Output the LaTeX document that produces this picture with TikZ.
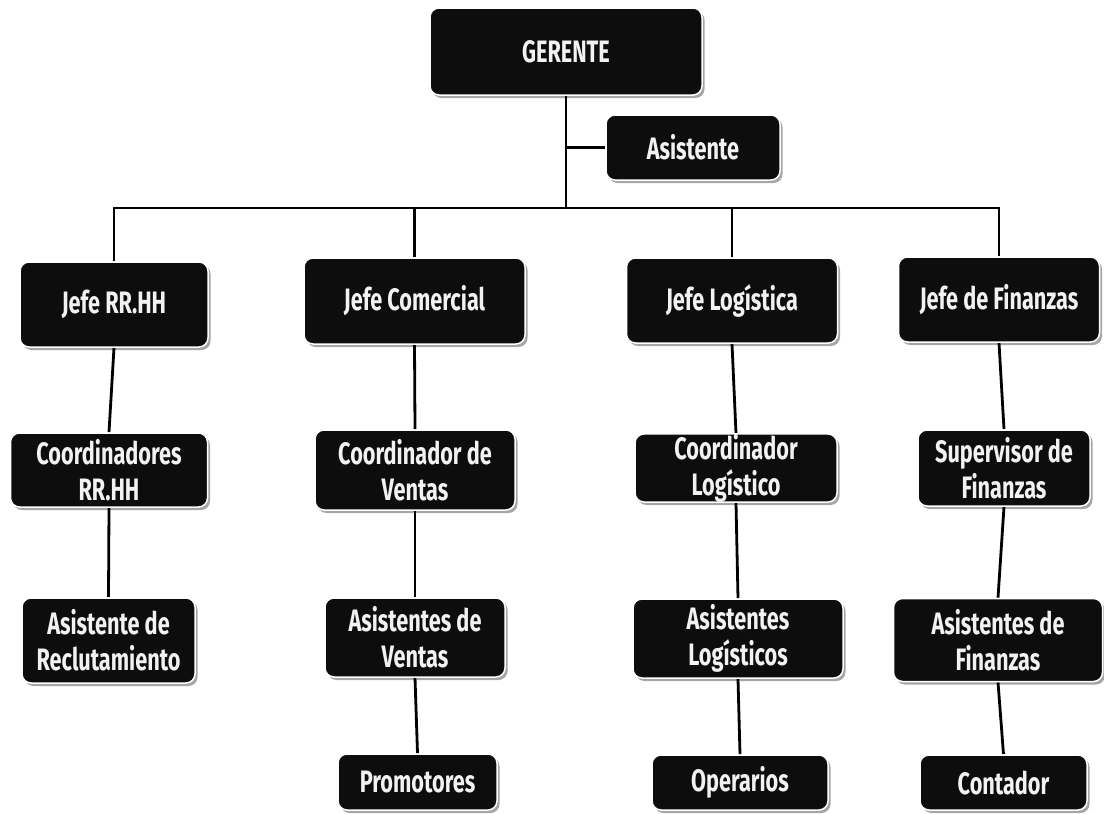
\documentclass[tikz,border=0pt]{standalone}
\usepackage{fontspec}
\newfontfamily\boxfont{Fira Sans}[FakeStretch=0.70]
\usetikzlibrary{shadows,backgrounds}
\definecolor{boxfill}{HTML}{0D0D0D}
\definecolor{boxtext}{HTML}{F2F2F2}
\begin{document}
\begin{tikzpicture}[x=1pt,y=-1pt,
  orgbox/.style={draw=white, line width=1.5pt, fill=boxfill, rounded corners=9pt,
    text=boxtext, align=center, inner sep=0pt,
    font=\boxfont\bfseries\fontsize{31}{36}\selectfont,
    drop shadow={shadow xshift=2.5pt, shadow yshift=-3pt, fill=black, opacity=0.35}},
  conn/.style={line width=2.8pt, draw=black}]
\useasboundingbox (0,0) rectangle (1104,814);
% level 0
\node[orgbox, minimum width=272pt, minimum height=87pt] (ger) at (566,51.5) {GERENTE};
\node[orgbox, minimum width=174pt, minimum height=65pt] (asis) at (693,147.5) {Asistente};
% level 1
\node[orgbox, minimum width=188pt, minimum height=85pt] (hr) at (114,304.5) {Jefe RR.HH};
\node[orgbox, minimum width=221pt, minimum height=86pt] (com) at (414.5,301) {Jefe Comercial};
\node[orgbox, minimum width=211pt, minimum height=85pt] (log) at (732,300.5) {Jefe Logística};
\node[orgbox, minimum width=201pt, minimum height=85pt] (fin) at (999,299.5) {Jefe de Finanzas};
% level 2
\node[orgbox, minimum width=197pt, minimum height=74pt] (chr) at (109,470) {Coordinadores\\RR.HH};
\node[orgbox, minimum width=200pt, minimum height=80pt] (cve) at (415,470) {Coordinador de\\Ventas};
\node[orgbox, minimum width=202pt, minimum height=68pt] (clo) at (736,468) {Coordinador\\Logístico};
\node[orgbox, minimum width=172pt, minimum height=76pt] (sfi) at (1004,468) {Supervisor de\\Finanzas};
% level 3
\node[orgbox, minimum width=173pt, minimum height=85pt] (are) at (108.5,640.5) {Asistente de\\Reclutamiento};
\node[orgbox, minimum width=180pt, minimum height=79pt] (ave) at (415,637.5) {Asistentes de\\Ventas};
\node[orgbox, minimum width=210pt, minimum height=79pt] (alo) at (738,638.5) {Asistentes\\Logísticos};
\node[orgbox, minimum width=209pt, minimum height=83pt] (afi) at (998,640) {Asistentes de\\Finanzas};
% level 4
\node[orgbox, minimum width=159pt, minimum height=56pt] (pro) at (417.5,782) {Promotores};
\node[orgbox, minimum width=176pt, minimum height=55pt] (ope) at (740,782.5) {Operarios};
\node[orgbox, minimum width=167pt, minimum height=55pt] (con) at (1003.5,782.5) {Contador};
\coordinate (bus) at (566,208);
\begin{pgfonlayer}{background}
\draw[conn] (ger.south) -- (ger.south |- bus);
\draw[conn] (asis.west) -- (asis.west -| ger.south);
\draw[conn] (hr.north) -- (hr.north |- bus) -- (fin.north |- bus) -- (fin.north);
\draw[conn] (com.north) -- (com.north |- bus);
\draw[conn] (log.north) -- (log.north |- bus);
\draw[conn] (hr.south) -- (chr.north);
\draw[conn] (chr.south) -- (are.north);
\draw[conn] (com.south) -- (cve.north);
\draw[conn] (cve.south) -- (ave.north);
\draw[conn] (ave.south) -- (pro.north);
\draw[conn] (log.south) -- (clo.north);
\draw[conn] (clo.south) -- (alo.north);
\draw[conn] (alo.south) -- (ope.north);
\draw[conn] (fin.south) -- (sfi.north);
\draw[conn] (sfi.south) -- (afi.north);
\draw[conn] (afi.south) -- (con.north);
\end{pgfonlayer}
\end{tikzpicture}
\end{document}
